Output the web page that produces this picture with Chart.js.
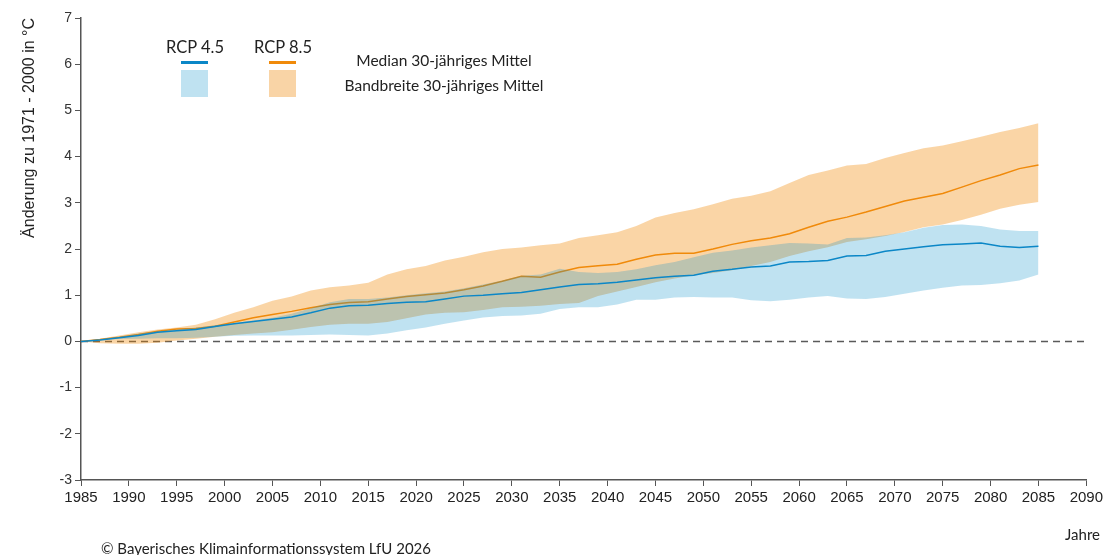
<!DOCTYPE html>
<html lang="de">
<head>
<meta charset="utf-8">
<title>Temperaturänderung RCP 4.5 / RCP 8.5</title>
<script src="https://cdn.jsdelivr.net/npm/chart.js@4/dist/chart.umd.min.js"></script>
<style>
  html, body { margin: 0; padding: 0; background: #fff; }
  #wrap { position: relative; width: 1106px; height: 555px; font-family: Lato, "Noto Sans", sans-serif; color: #222; }
  #chart { position: absolute; left: 0; top: 0; }
  .txt { position: absolute; font-size: 15.5px; line-height: 18px; white-space: nowrap; }
  .center { transform: translateX(-50%); }
  .sw { position: absolute; }
</style>
</head>
<body>
<div id="wrap">
  <canvas id="chart" width="1106" height="555"></canvas>

  <!-- Legende -->
  <div class="txt center" style="left:195px; top:38px; font-size:16.5px;">RCP 4.5</div>
  <div class="txt center" style="left:283px; top:38px; font-size:16.5px;">RCP 8.5</div>
  <div class="sw" style="left:181px; top:61px; width:27px; height:3px; background:#0b87c7;"></div>
  <div class="sw" style="left:269px; top:61px; width:27px; height:3px; background:#f08a0a;"></div>
  <div class="sw" style="left:181px; top:70px; width:27px; height:27px; background:#bfe2f1;"></div>
  <div class="sw" style="left:269px; top:70px; width:27px; height:27px; background:#f9d4a6;"></div>
  <div class="txt center" style="left:444px; top:51px;">Median 30-jähriges Mittel</div>
  <div class="txt center" style="left:444px; top:76px;">Bandbreite 30-jähriges Mittel</div>

  <div class="txt" style="right:6px; top:525px; font-size:15px;">Jahre</div>
  <div class="txt" style="left:101px; top:539px; font-size:15px;">© Bayerisches Klimainformationssystem LfU 2026</div>
</div>

<script>
// Jahre (30-jährige gleitende Mittel)
const years = [1985, 1987, 1989, 1991, 1993, 1995, 1997, 1999, 2001, 2003,
  2005, 2007, 2009, 2011, 2013, 2015, 2017, 2019, 2021, 2023,
  2025, 2027, 2029, 2031, 2033, 2035, 2037, 2039, 2041, 2043,
  2045, 2047, 2049, 2051, 2053, 2055, 2057, 2059, 2061, 2063,
  2065, 2067, 2069, 2071, 2073, 2075, 2077, 2079, 2081, 2083, 2085];

// RCP 4.5
const rcp45Median = [0, 0.03, 0.08, 0.13, 0.2, 0.23, 0.26, 0.32, 0.38, 0.43,
  0.48, 0.53, 0.62, 0.72, 0.77, 0.78, 0.82, 0.85, 0.86, 0.92,
  0.98, 1.0, 1.03, 1.06, 1.12, 1.18, 1.23, 1.25, 1.28, 1.33,
  1.38, 1.41, 1.43, 1.52, 1.56, 1.61, 1.63, 1.72, 1.73, 1.75,
  1.85, 1.86, 1.95, 2.0, 2.05, 2.09, 2.11, 2.13, 2.06, 2.03, 2.06];
const rcp45Upper = [0, 0.05, 0.1, 0.17, 0.22, 0.26, 0.3, 0.35, 0.4, 0.45,
  0.51, 0.6, 0.72, 0.85, 0.92, 0.92, 0.95, 1.0, 1.04, 1.08,
  1.15, 1.23, 1.32, 1.42, 1.45, 1.57, 1.5, 1.48, 1.5, 1.56,
  1.65, 1.72, 1.82, 1.92, 1.97, 2.03, 2.08, 2.13, 2.12, 2.1,
  2.24, 2.25, 2.3, 2.36, 2.46, 2.52, 2.53, 2.5, 2.42, 2.39, 2.39];
const rcp45Lower = [0, 0.03, 0.05, 0.06, 0.07, 0.07, 0.08, 0.1, 0.12, 0.13,
  0.13, 0.13, 0.14, 0.15, 0.14, 0.13, 0.17, 0.24, 0.3, 0.38,
  0.45, 0.52, 0.55, 0.56, 0.6, 0.7, 0.74, 0.74, 0.8, 0.9,
  0.9, 0.95, 0.96, 0.95, 0.95, 0.89, 0.87, 0.9, 0.95, 0.98,
  0.93, 0.92, 0.96, 1.03, 1.1, 1.16, 1.21, 1.22, 1.26, 1.32, 1.45];

// RCP 8.5
const rcp85Median = [0, 0.04, 0.09, 0.15, 0.22, 0.27, 0.28, 0.33, 0.42, 0.51,
  0.58, 0.65, 0.73, 0.8, 0.84, 0.86, 0.92, 0.97, 1.01, 1.05,
  1.12, 1.2, 1.3, 1.41, 1.39, 1.5, 1.6, 1.64, 1.67, 1.78,
  1.87, 1.91, 1.91, 2.0, 2.1, 2.18, 2.24, 2.33, 2.47, 2.6,
  2.69, 2.8, 2.92, 3.04, 3.12, 3.2, 3.34, 3.48, 3.6, 3.74, 3.82];
const rcp85Upper = [0, 0.06, 0.13, 0.2, 0.26, 0.3, 0.36, 0.48, 0.62, 0.74,
  0.88, 0.97, 1.1, 1.17, 1.21, 1.27, 1.45, 1.56, 1.63, 1.75,
  1.83, 1.93, 2.0, 2.03, 2.08, 2.12, 2.24, 2.3, 2.36, 2.5,
  2.68, 2.78, 2.86, 2.97, 3.09, 3.15, 3.25, 3.43, 3.6, 3.7,
  3.81, 3.84, 3.97, 4.08, 4.18, 4.24, 4.33, 4.43, 4.53, 4.62, 4.72];
const rcp85Lower = [0, -0.04, -0.05, -0.05, -0.03, 0.02, 0.06, 0.1, 0.14, 0.17,
  0.2, 0.25, 0.31, 0.36, 0.38, 0.38, 0.42, 0.5, 0.58, 0.62,
  0.63, 0.68, 0.74, 0.75, 0.77, 0.81, 0.83, 0.98, 1.08, 1.18,
  1.28, 1.36, 1.43, 1.48, 1.54, 1.63, 1.72, 1.85, 1.95, 2.04,
  2.15, 2.21, 2.28, 2.37, 2.47, 2.53, 2.63, 2.74, 2.87, 2.96, 3.02];

// Nulllinie
const zeroYears = [1985, 2090];
const zeroValues = [0, 0];

const toPoints = (xs, ys) => xs.map((x, i) => ({ x: x, y: ys[i] }));

const axisColor = '#555';
const blue = '#0b87c7';
const orange = '#f08a0a';

// Reihenfolge: höherer Index wird zuerst gezeichnet
// (Null, Band 8.5, Median 8.5, Band 4.5, Median 4.5)
new Chart(document.getElementById('chart'), {
  type: 'line',
  data: {
    datasets: [
      {
        label: 'RCP 4.5 Median',
        data: toPoints(years, rcp45Median),
        borderColor: blue,
        borderWidth: 1.5,
        fill: false
      },
      {
        label: 'RCP 4.5 oben',
        data: toPoints(years, rcp45Upper),
        borderWidth: 0,
        borderColor: 'rgba(0,0,0,0)',
        backgroundColor: 'rgba(0,139,199,0.25)',
        fill: '+1'
      },
      {
        label: 'RCP 4.5 unten',
        data: toPoints(years, rcp45Lower),
        borderWidth: 0,
        borderColor: 'rgba(0,0,0,0)',
        fill: false
      },
      {
        label: 'RCP 8.5 Median',
        data: toPoints(years, rcp85Median),
        borderColor: orange,
        borderWidth: 1.5,
        fill: false
      },
      {
        label: 'RCP 8.5 oben',
        data: toPoints(years, rcp85Upper),
        borderWidth: 0,
        borderColor: 'rgba(0,0,0,0)',
        backgroundColor: 'rgba(240,135,0,0.35)',
        fill: '+1'
      },
      {
        label: 'RCP 8.5 unten',
        data: toPoints(years, rcp85Lower),
        borderWidth: 0,
        borderColor: 'rgba(0,0,0,0)',
        fill: false
      },
      {
        label: 'Null',
        data: toPoints(zeroYears, zeroValues),
        borderColor: '#5a5a5a',
        borderWidth: 1.5,
        borderDash: [7, 5],
        fill: false
      }
    ]
  },
  options: {
    responsive: false,
    animation: false,
    events: [],
    elements: {
      point: { radius: 0 },
      line: { tension: 0 }
    },
    layout: {
      padding: { top: 18, right: 15, left: 0, bottom: 0 }
    },
    plugins: {
      legend: { display: false },
      tooltip: { enabled: false }
    },
    scales: {
      x: {
        type: 'linear',
        min: 1985,
        max: 2090,
        afterFit(scale) { scale.height = 75; },
        border: { display: true, color: axisColor, width: 1.5 },
        grid: { drawOnChartArea: false, drawTicks: true, tickLength: 6, color: axisColor },
        ticks: {
          stepSize: 5,
          padding: 3,
          color: '#222',
          font: { family: '"Liberation Sans Narrow", "Liberation Sans", sans-serif', size: 15 },
          callback: v => String(v)
        }
      },
      y: {
        min: -3,
        max: 7,
        afterFit(scale) { scale.width = 81; },
        border: { display: true, color: axisColor, width: 1.5 },
        grid: { drawOnChartArea: false, drawTicks: true, tickLength: 6, color: axisColor },
        ticks: {
          stepSize: 1,
          padding: 3,
          color: '#333',
          font: { family: '"Liberation Sans", Arial, sans-serif', size: 14 }
        },
        title: {
          display: true,
          text: 'Änderung zu 1971 - 2000 in °C',
          align: 'end',
          color: '#222',
          padding: { top: 20 },
          font: { family: '"Liberation Sans", Arial, sans-serif', size: 16 }
        }
      }
    }
  }
});
</script>
</body>
</html>
